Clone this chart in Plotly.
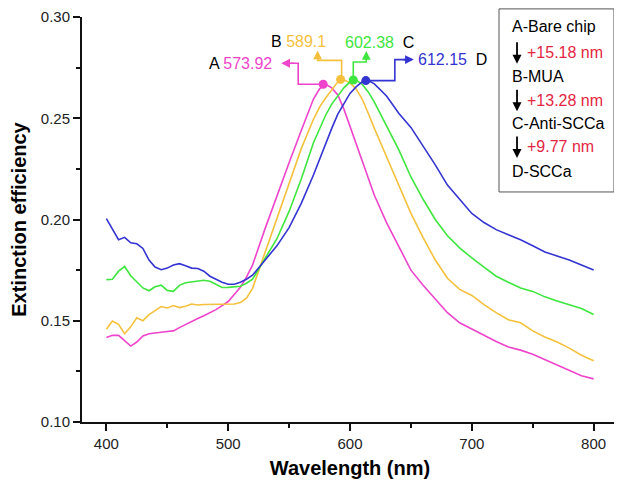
import plotly.graph_objects as go

# wavelength grid (nm)
wavelength = [400, 405, 410, 415, 420, 425, 430, 435, 440, 445, 450, 455, 460, 465, 470,
              475, 480, 485, 490, 495, 500, 505, 510, 515, 520,
              530, 540, 550, 560, 570, 575, 580, 585, 590, 595, 600, 605, 610, 615, 620,
              630, 640, 650, 660, 670, 680, 690, 700, 710, 720, 730, 740, 750, 760, 770,
              780, 790, 800]

# A - bare chip (magenta)
ext_a = [0.1417, 0.1428, 0.1428, 0.1400, 0.1375, 0.1395, 0.1425, 0.1436, 0.1438, 0.1443,
         0.1447, 0.1450, 0.1466, 0.1482, 0.1496, 0.1511, 0.1525, 0.1540, 0.1555, 0.1575,
         0.1595, 0.1630, 0.1665, 0.1715, 0.1775,
         0.1950, 0.2120, 0.2280, 0.2440, 0.2595, 0.2645, 0.2668, 0.2650, 0.2615, 0.2545,
         0.2460, 0.2370, 0.2280, 0.2205, 0.2120,
         0.1985, 0.1870, 0.1750, 0.1675, 0.1605, 0.1540, 0.1490, 0.1458, 0.1428, 0.1398,
         0.1370, 0.1355, 0.1335, 0.1308, 0.1280, 0.1255, 0.1228, 0.1213]

# B - MUA (yellow)
ext_b = [0.1458, 0.1499, 0.1482, 0.1436, 0.1470, 0.1515, 0.1500, 0.1530, 0.1550, 0.1570,
         0.1563, 0.1575, 0.1565, 0.1572, 0.1583, 0.1578, 0.1580, 0.1580, 0.1580, 0.1581,
         0.1582, 0.1583, 0.1590, 0.1612, 0.1660,
         0.1830, 0.2000, 0.2170, 0.2350, 0.2495, 0.2555, 0.2600, 0.2640, 0.2680, 0.2690,
         0.2675, 0.2645, 0.2595, 0.2525, 0.2450,
         0.2310, 0.2170, 0.2030, 0.1910, 0.1800, 0.1710, 0.1655, 0.1625, 0.1580, 0.1540,
         0.1505, 0.1490, 0.1450, 0.1420, 0.1395, 0.1365, 0.1330, 0.1303]

# C - Anti-SCCa (green)
ext_c = [0.1703, 0.1705, 0.1745, 0.1768, 0.1722, 0.1692, 0.1662, 0.1648, 0.1668, 0.1676,
         0.1650, 0.1645, 0.1675, 0.1688, 0.1693, 0.1695, 0.1700, 0.1695, 0.1680, 0.1664,
         0.1665, 0.1668, 0.1670, 0.1685, 0.1705,
         0.1805, 0.1905, 0.2040, 0.2200, 0.2379, 0.2450, 0.2515, 0.2570, 0.2610, 0.2650,
         0.2680, 0.2688, 0.2668, 0.2630, 0.2580,
         0.2460, 0.2345, 0.2210, 0.2100, 0.2000, 0.1920, 0.1860, 0.1810, 0.1765, 0.1720,
         0.1690, 0.1662, 0.1645, 0.1618, 0.1598, 0.1578, 0.1560, 0.1531]

# D - SCCa (blue)
ext_d = [0.2004, 0.1955, 0.1900, 0.1912, 0.1885, 0.1880, 0.1857, 0.1800, 0.1765, 0.1752,
         0.1760, 0.1775, 0.1782, 0.1772, 0.1760, 0.1758, 0.1745, 0.1720, 0.1705, 0.1690,
         0.1680, 0.1680, 0.1690, 0.1705, 0.1725,
         0.1800, 0.1870, 0.1960, 0.2080, 0.2220, 0.2300, 0.2375, 0.2450, 0.2520, 0.2575,
         0.2623, 0.2655, 0.2680, 0.2686, 0.2670,
         0.2610, 0.2525, 0.2455, 0.2365, 0.2270, 0.2170, 0.2100, 0.2030, 0.1985, 0.1950,
         0.1925, 0.1900, 0.1870, 0.1840, 0.1820, 0.1800, 0.1775, 0.1751]

# peak positions as drawn
peak_x = [578.0, 592.3, 602.7, 613.0]
peak_y = [0.2668, 0.2692, 0.2689, 0.2686]
peak_text = ["573.92", "589.1", "602.38", "612.15"]
names = ["A", "B", "C", "D"]

steps = ["A-Bare chip", "B-MUA", "C-Anti-SCCa", "D-SCCa"]
shifts = ["+15.18 nm", "+13.28 nm", "+9.77 nm"]

colors = ["#ee44cc", "#f5c13c", "#3ee63e", "#3434d2"]
series = [ext_a, ext_b, ext_c, ext_d]
FONT = "Liberation Sans, Arial, sans-serif"

# pixel -> data conversion for the plot area (536 x 405 px)
NM_PX = 440 / 536
EX_PX = 0.2 / 405

fig = go.Figure()
for s, c in zip(series, colors):
    fig.add_trace(go.Scatter(x=wavelength, y=s, mode="lines",
                             line=dict(color=c, width=1.6), showlegend=False, hoverinfo="skip"))

# bracket paths (pixel offsets from the peak dot, y down), arrow tip, label offset
brackets = [
    [(0, 0), (-25, 0), (-25, -21), (-32, -21)],
    [(1, 0), (1, -19), (-23, -19), (-23, -22)],
    [(0, 0), (0, -18), (13, -18), (13, -22)],
    [(0, 0), (29, 0), (29, -21), (40, -21)],
]
tips = [(-42, -21, 14, 0), (-23, -29, 0, 10), (13, -29, 0, 10), (48, -21, -12, 0)]
labels = [(-49, -21, "right"), (-42, -38, "center"), (26, -38, "center"), (50, -21, "left")]

for i in range(4):
    px, py = peak_x[i], peak_y[i]
    bx = [px + dx * NM_PX for dx, dy in brackets[i]]
    by = [py - dy * EX_PX for dx, dy in brackets[i]]
    fig.add_trace(go.Scatter(x=bx, y=by, mode="lines", line=dict(color=colors[i], width=1.6),
                             showlegend=False, hoverinfo="skip"))
    fig.add_trace(go.Scatter(x=[px], y=[py], mode="markers",
                             marker=dict(color=colors[i], size=9), showlegend=False, hoverinfo="skip"))
    tx, ty, ax, ay = tips[i]
    fig.add_annotation(x=px + tx * NM_PX, y=py - ty * EX_PX, ax=ax, ay=ay, text="",
                       showarrow=True, arrowhead=2, arrowsize=1.1, arrowwidth=1.6,
                       arrowcolor=colors[i])
    lx, ly, anchor = labels[i]
    if i in (0, 1):
        txt = names[i] + ' <span style="color:%s">%s</span>' % (colors[i], peak_text[i])
    else:
        txt = '<span style="color:%s">%s</span>  ' % (colors[i], peak_text[i]) + names[i]
    fig.add_annotation(x=px + lx * NM_PX, y=py - ly * EX_PX, text=txt, showarrow=False,
                       xanchor=anchor, yanchor="middle",
                       font=dict(family=FONT, size=16, color="black"))

# step box
fig.add_shape(type="rect", xref="paper", yref="paper", x0=0.778, x1=0.9925, y0=0.568, y1=1.02,
              line=dict(color="#555555", width=1))
step_y = [0.976, 0.854, 0.7375, 0.618]
shift_y = [0.9128, 0.795, 0.6798]
for t, y in zip(steps, step_y):
    fig.add_annotation(xref="paper", yref="paper", x=0.7985, y=y, text=t, showarrow=False,
                       xanchor="left", yanchor="middle", font=dict(family=FONT, size=16, color="black"))
for t, y in zip(shifts, shift_y):
    fig.add_annotation(xref="paper", yref="paper", x=0.826, y=y, text=t, showarrow=False,
                       xanchor="left", yanchor="middle", font=dict(family=FONT, size=16, color="#e3263f"))
    fig.add_annotation(xref="paper", yref="paper", x=0.8116, y=y - 0.028, ax=0, ay=-23, text="",
                       showarrow=True, arrowhead=2, arrowsize=1, arrowwidth=1.8, arrowcolor="black")

axis_common = dict(showline=True, linecolor="#111111", linewidth=2, ticks="outside",
                   ticklen=7, tickwidth=2, tickcolor="#111111", showgrid=False, zeroline=False,
                   automargin=False, ticklabeloverflow="allow",
                   tickfont=dict(family=FONT, size=15, color="#222222"))
fig.update_xaxes(range=[380, 820], dtick=100, tick0=400,
                 minor=dict(dtick=50, ticks="outside", ticklen=4, tickwidth=2, tickcolor="#111111"),
                 title=dict(text="<b>Wavelength (nm)</b>", standoff=10,
                            font=dict(family=FONT, size=20, color="black")),
                 **axis_common)
fig.update_yaxes(range=[0.10, 0.30001], dtick=0.05, tick0=0.10, tickformat=".2f",
                 minor=dict(dtick=0.025, ticks="outside", ticklen=4, tickwidth=2, tickcolor="#111111"),
                 title=dict(text="<b>Extinction efficiency</b>", standoff=12,
                            font=dict(family=FONT, size=20, color="black")),
                 **axis_common)
# the page body adds an 8 px offset, so the figure is 8 px smaller than the window
fig.update_layout(width=614, height=477, margin=dict(l=74, r=4, t=9, b=63),
                  plot_bgcolor="white", paper_bgcolor="white")
fig.write_html("out.html")
